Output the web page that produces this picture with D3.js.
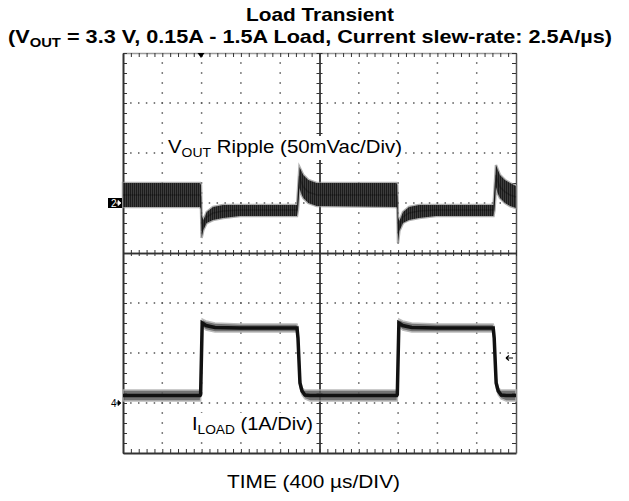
<!DOCTYPE html>
<html>
<head>
<meta charset="utf-8">
<script src="https://cdn.jsdelivr.net/npm/d3@7"></script>
<style>
  body { margin: 0; background: #fff; }
  svg { display: block; font-family: "Liberation Sans", Arial, sans-serif; }
</style>
</head>
<body>
<div id="chart"></div>
<script>
var width = 629, height = 501;
var plot = { left: 123, right: 516, top: 53, bottom: 453 };

// time base: 400 us/div, 10 divisions
var timeDomain = [0, 4000];
var usPerMinor = 80;

// VOUT ripple (mV, relative to the ch2 marker) - noise envelope + mean
var vTime  = [0, 784, 794, 800, 818, 852, 916, 1018, 1191, 1771, 1781, 1796, 1811, 1835, 1886, 1971,
              2783, 2792, 2799, 2813, 2850, 2911, 3013, 3186, 3771, 3781, 3796, 3812, 3837, 3888, 3939, 4000];
var vUpper = [20, 20, 18, -12, -17, -9, -4, -2, -2, -2, 13, 36, 33, 28, 23, 20,
              20, 18, -14, -18, -9, -4, -2, -2, -2, 13, 38, 34, 28, 23, 20, 17];
var vLower = [-4, -4, -6, -35, -27, -20, -17, -15, -13, -13, -7, 15, 10, 5, 0, -3,
              -4, -6, -40, -28, -20, -17, -15, -13, -13, -7, 16, 10, 5, 0, -3, -5];
var vMean  = [8, 8, 6, -28, -22, -14, -10, -8, -7, -7, 3, 27, 22, 16, 11, 8,
              8, 6, -30, -23, -14, -10, -8, -7, -7, 3, 28, 22, 16, 11, 8, 6];

// ILOAD (A) - noise envelope + mean
var iTime  = [0, 784, 790, 806, 845, 936, 1191, 1771, 1781, 1801, 1822, 1852, 1903,
              2786, 2792, 2808, 2847, 2938, 3190, 3768, 3778, 3798, 3819, 3849, 3900, 4000];
var iUpper = [0.26, 0.26, 0.32, 1.68, 1.64, 1.6, 1.58, 1.58, 1.52, 0.5, 0.3, 0.26, 0.26,
              0.26, 0.32, 1.68, 1.64, 1.6, 1.58, 1.58, 1.52, 0.5, 0.3, 0.26, 0.26, 0.26];
var iLower = [0.04, 0.04, 0.04, 1.52, 1.46, 1.42, 1.42, 1.42, 1.2, 0.3, 0.16, 0.08, 0.04,
              0.04, 0.04, 1.52, 1.46, 1.42, 1.42, 1.42, 1.2, 0.3, 0.16, 0.08, 0.04, 0.04];
var iMean  = [0.15, 0.15, 0.17, 1.6, 1.55, 1.51, 1.5, 1.5, 1.3, 0.4, 0.24, 0.16, 0.15,
              0.15, 0.17, 1.6, 1.55, 1.51, 1.5, 1.5, 1.3, 0.4, 0.24, 0.16, 0.15, 0.15];

var triggerTime = 794;   // us
var triggerLevel = 0.9;  // A on ch4

var svg = d3.select("#chart").append("svg")
  .attr("width", width)
  .attr("height", height);

var x = d3.scaleLinear().domain(timeDomain).range([plot.left, plot.right]);
var yDiv = d3.scaleLinear().domain([-4, 4]).range([plot.bottom, plot.top]);
var yV = d3.scaleLinear().domain([-250, 150]).range([plot.bottom, plot.top]); // 50 mV/div
var yI = d3.scaleLinear().domain([-1, 7]).range([plot.bottom, plot.top]);     // 1 A/div

var xMinor = d3.range(0, 51).map(function (d) { return d * usPerMinor; });
var yMinor = d3.range(-20, 21).map(function (d) { return d / 5; });
var xMajor = d3.range(1, 10).filter(function (d) { return d != 5; }).map(function (d) { return d * 400; });
var yMajor = [-3, -2, -1, 1, 2, 3];

// noise texture for the ripple band (vertical streaks)
var defs = svg.append("defs");
var pat = defs.append("pattern").attr("id", "noise")
  .attr("width", 2).attr("height", 10).attr("patternUnits", "userSpaceOnUse");
pat.append("rect").attr("width", 2).attr("height", 10).attr("fill", "#1c1c1c");
pat.append("rect").attr("x", 1).attr("width", 1).attr("height", 10).attr("fill", "#3d3d3d");

////////////////////////// grid //////////////////////////
var grid = svg.append("g");
grid.selectAll(".vdots").data(xMajor).enter().append("line")
  .attr("x1", function (d) { return x(d); }).attr("x2", function (d) { return x(d); })
  .attr("y1", plot.top).attr("y2", plot.bottom)
  .attr("stroke", "#555").attr("stroke-width", 1.5)
  .attr("stroke-dasharray", "1.5 " + (yDiv(0) - yDiv(0.2) - 1.5))
  .attr("stroke-dashoffset", 0.75);
grid.selectAll(".hdots").data(yMajor).enter().append("line")
  .attr("y1", function (d) { return yDiv(d); }).attr("y2", function (d) { return yDiv(d); })
  .attr("x1", plot.left).attr("x2", plot.right)
  .attr("stroke", "#555").attr("stroke-width", 1.5)
  .attr("stroke-dasharray", "1.5 " + (x(usPerMinor) - x(0) - 1.5))
  .attr("stroke-dashoffset", 0.75);

function styleAxis(g, color, w) {
  g.select(".domain").attr("stroke", color).attr("stroke-width", w);
  g.selectAll(".tick line").attr("stroke", "#333").attr("stroke-width", 1);
}

// border ticks
svg.append("g").attr("transform", "translate(0," + plot.top + ")")
  .call(d3.axisBottom(x).tickValues(xMinor).tickSize(4).tickSizeOuter(0).tickFormat(""))
  .call(styleAxis, "#9a9a9a", 1.5);
svg.append("g").attr("transform", "translate(0," + plot.bottom + ")")
  .call(d3.axisTop(x).tickValues(xMinor).tickSize(4).tickSizeOuter(0).tickFormat(""))
  .call(styleAxis, "#333", 2);
svg.append("g").attr("transform", "translate(" + plot.left + ",0)")
  .call(d3.axisRight(yDiv).tickValues(yMinor).tickSize(4).tickSizeOuter(0).tickFormat(""))
  .call(styleAxis, "#333", 2);
svg.append("g").attr("transform", "translate(" + plot.right + ",0)")
  .call(d3.axisLeft(yDiv).tickValues(yMinor).tickSize(4).tickSizeOuter(0).tickFormat(""))
  .call(styleAxis, "#555", 1.5);

// centre crosshair
var cx = x(2000), cy = yDiv(0);
[d3.axisTop, d3.axisBottom].forEach(function (ax) {
  svg.append("g").attr("transform", "translate(0," + cy + ")")
    .call(ax(x).tickValues(xMinor).tickSize(3).tickSizeOuter(0).tickFormat(""))
    .call(styleAxis, "#333", 1.3);
});
[d3.axisLeft, d3.axisRight].forEach(function (ax) {
  svg.append("g").attr("transform", "translate(" + cx + ",0)")
    .call(ax(yDiv).tickValues(yMinor).tickSize(3).tickSizeOuter(0).tickFormat(""))
    .call(styleAxis, "#333", 1.3);
});

////////////////////////// traces //////////////////////////
var vData = vTime.map(function (t, i) { return { t: t, hi: vUpper[i], lo: vLower[i], m: vMean[i] }; });
var iData = iTime.map(function (t, i) { return { t: t, hi: iUpper[i], lo: iLower[i], m: iMean[i] }; });

function band(yScale) {
  return d3.area()
    .x(function (d) { return x(d.t); })
    .y0(function (d) { return yScale(d.lo); })
    .y1(function (d) { return yScale(d.hi); });
}
function mid(yScale) {
  return d3.line()
    .x(function (d) { return x(d.t); })
    .y(function (d) { return yScale(d.m); });
}

// VOUT ripple
svg.append("path").datum(vData).attr("d", band(yV))
  .attr("fill", "none").attr("stroke", "#8f8f8f").attr("stroke-width", 2.5).attr("opacity", 0.7);
svg.append("path").datum(vData).attr("d", band(yV))
  .attr("fill", "url(#noise)").attr("stroke", "none");
svg.append("path").datum(vData).attr("d", mid(yV))
  .attr("fill", "none").attr("stroke", "#000").attr("stroke-width", 1.5).attr("opacity", 0.25);

// ILOAD
svg.append("path").datum(iData).attr("d", band(yI))
  .attr("fill", "#5a5a5a").attr("stroke", "#b0b0b0").attr("stroke-width", 1.5).attr("opacity", 0.85);
svg.append("path").datum(iData).attr("d", mid(yI))
  .attr("fill", "none").attr("stroke", "#111").attr("stroke-width", 3.5);

////////////////////////// markers //////////////////////////
var m2 = yV(0);
svg.append("rect").attr("x", plot.left - 15).attr("y", m2 - 5).attr("width", 14).attr("height", 10).attr("fill", "#000");
svg.append("text").attr("x", plot.left - 12).attr("y", m2 + 4).attr("fill", "#fff")
  .style("font-size", "10px").text("2");
svg.append("path").attr("d", "M" + (plot.left - 7) + "," + m2 + "h2m0,-2.5l3,2.5l-3,2.5z")
  .attr("stroke", "#fff").attr("fill", "#fff").attr("stroke-width", 0.8);

var m4 = yI(0);
svg.append("text").attr("x", plot.left - 12).attr("y", m4 + 4).attr("fill", "#000")
  .style("font-size", "10px").text("4");
svg.append("path").attr("d", "M" + (plot.left - 7) + "," + m4 + "h2m0,-2.5l3,2.5l-3,2.5z")
  .attr("stroke", "#000").attr("fill", "#000").attr("stroke-width", 0.8);

// trigger position / level
svg.append("path")
  .attr("d", "M" + (x(triggerTime) - 3.5) + "," + plot.top + "h7l-3.5,5z")
  .attr("fill", "#000");
var tl = yI(triggerLevel);
svg.append("path")
  .attr("d", "M" + (plot.right - 3) + "," + tl + "h-7m0,0l3,-2.5m-3,2.5l3,2.5")
  .attr("stroke", "#000").attr("fill", "none").attr("stroke-width", 1.2);

////////////////////////// text //////////////////////////
function subLabel(xp, yp, main, sub, rest, size, subSize, weight, len, bg) {
  var t = svg.append("text").attr("x", xp).attr("y", yp)
    .attr("textLength", len).attr("lengthAdjust", "spacingAndGlyphs")
    .style("font-size", size + "px").style("font-weight", weight).attr("fill", "#000");
  t.append("tspan").text(main);
  t.append("tspan").attr("dy", 4).style("font-size", subSize + "px").text(sub);
  t.append("tspan").attr("dy", -4).text(rest);
  if (bg) {
    var b = t.node().getBBox();
    svg.insert("rect", function () { return t.node(); })
      .attr("x", b.x - 1).attr("y", b.y).attr("width", b.width + 2).attr("height", b.height)
      .attr("fill", "#fff");
  }
  return t;
}

svg.append("text").attr("x", 246).attr("y", 21)
  .attr("textLength", 148).attr("lengthAdjust", "spacingAndGlyphs")
  .style("font-size", "19px").style("font-weight", "bold").text("Load Transient");
subLabel(8, 43, "(V", "OUT", " = 3.3 V, 0.15A - 1.5A Load, Current slew-rate: 2.5A/\u00b5s)", 19, 13, "bold", 604, false);

subLabel(168, 153, "V", "OUT", " Ripple (50mVac/Div)", 19, 13, "normal", 234, true);
subLabel(192, 430, "I", "LOAD", " (1A/Div)", 19, 13, "normal", 121, true);

svg.append("text").attr("x", 227).attr("y", 488)
  .attr("textLength", 173).attr("lengthAdjust", "spacingAndGlyphs")
  .style("font-size", "19px").text("TIME (400 \u00b5s/DIV)");
</script>
</body>
</html>
